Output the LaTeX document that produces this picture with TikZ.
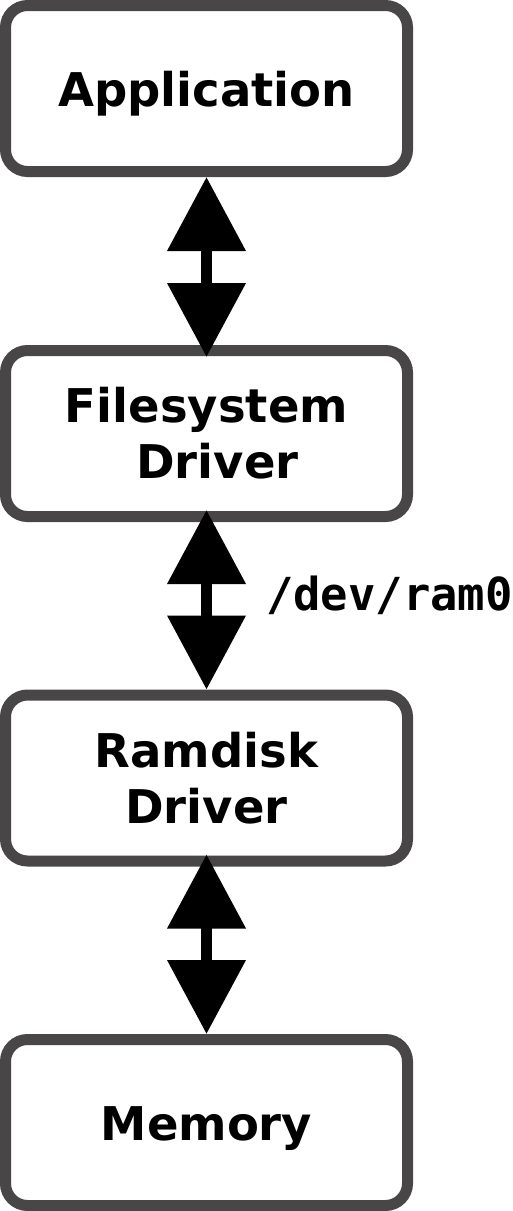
\documentclass[tikz,border=0pt]{standalone}
\usepackage{fontspec}
\setmainfont{DejaVu Sans}
\setmonofont{DejaVu Sans Mono}
\usetikzlibrary{arrows.meta}
\definecolor{boxgray}{RGB}{72,70,71}
\begin{document}
\begin{tikzpicture}[x=1pt,y=-1pt,
  box/.style={draw=boxgray, fill=white, line width=11pt, rounded corners=22pt,
    minimum width=402pt, minimum height=166pt, inner sep=0pt, align=center,
    font=\fontsize{46.5}{56}\selectfont\bfseries},
  oneline/.style={text height=35pt, text depth=0pt},
  biarrow/.style={line width=11pt,
    {Triangle[width=76pt,length=74pt]}-{Triangle[width=76pt,length=74pt]}},
  devlabel/.style={anchor=base west, inner sep=0pt,
    font=\fontsize{45.5}{54}\selectfont\ttfamily\bfseries}
]
\useasboundingbox (0,0) rectangle (512,1211);
\node[box, oneline] (app) at (206.5,88.5) {Application};
\node[box] (fs) at (206.5,433.5) {Filesystem\\\hspace*{22pt}Driver};
\node[box] (ram) at (206.5,778) {Ramdisk\\Driver};
\node[box, oneline] (mem) at (206.5,1122.5) {Memory};
\draw[biarrow] (app.south) -- ([yshift=-12pt]fs.north);
\draw[biarrow] ([yshift=12pt]fs.south) -- (ram.north);
\draw[biarrow] ([yshift=12pt]ram.south) -- (mem.north);
\node[devlabel] (dev) at (266,610) {/dev/ram0};
\end{tikzpicture}
\end{document}
